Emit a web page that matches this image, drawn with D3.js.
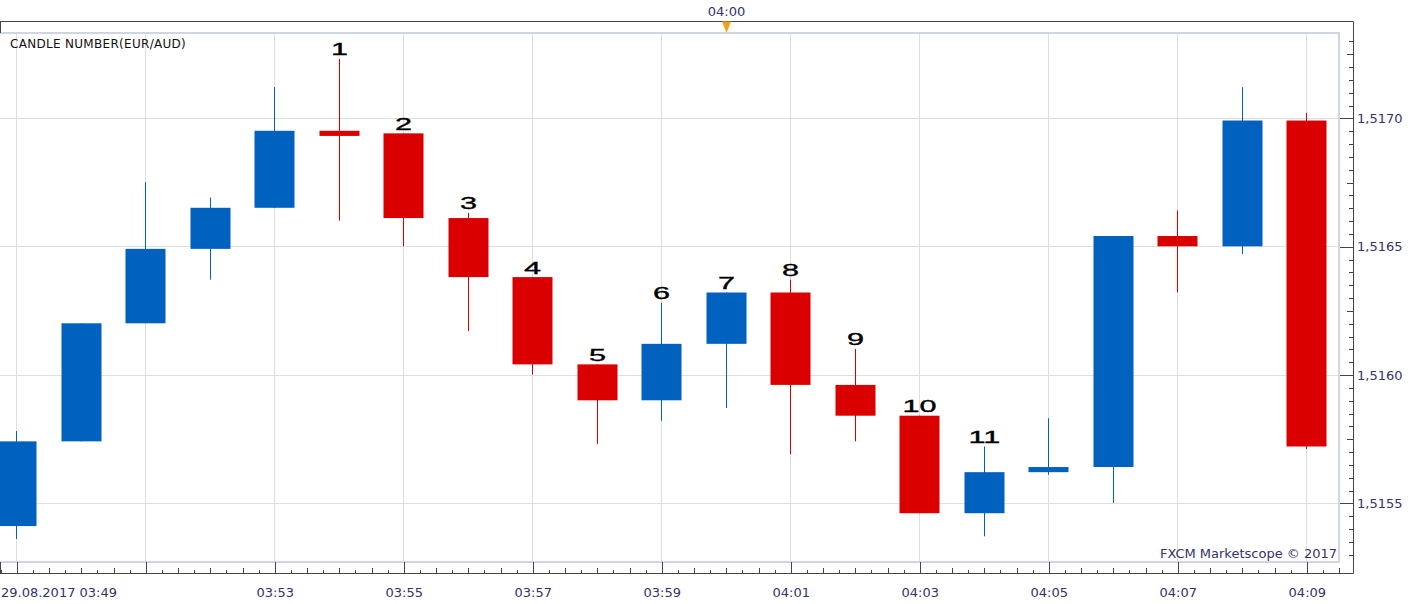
<!DOCTYPE html>
<html>
<head>
<meta charset="utf-8">
<script src="https://cdn.jsdelivr.net/npm/d3@7"></script>
<style>
  html, body { margin: 0; padding: 0; background: #fff; }
  svg { display: block; }
</style>
</head>
<body>
<div id="chart"></div>
<script>
// candle data (EUR/AUD, 1 minute, 29.08.2017)
const times   = ["03:49","03:50","03:51","03:52","03:53","03:54","03:55","03:56","03:57","03:58","03:59",
                 "04:00","04:01","04:02","04:03","04:04","04:05","04:06","04:07","04:08","04:09"];
const opens   = [1.51541,1.51574,1.51620,1.51649,1.51665,1.51695,1.51694,1.51661,1.51638,1.51604,1.51590,
                 1.51612,1.51632,1.51596,1.51584,1.51546,1.51562,1.51564,1.51654,1.51650,1.51699];
const highs   = [1.51578,1.51620,1.51675,1.51669,1.51712,1.51723,1.51694,1.51663,1.51638,1.51604,1.51628,
                 1.51632,1.51637,1.51610,1.51584,1.51572,1.51583,1.51654,1.51664,1.51712,1.51702];
const lows    = [1.51536,1.51574,1.51620,1.51637,1.51665,1.51660,1.51650,1.51617,1.51600,1.51573,1.51582,
                 1.51587,1.51569,1.51574,1.51546,1.51537,1.51561,1.51550,1.51632,1.51647,1.51571];
const closes  = [1.51574,1.51620,1.51649,1.51665,1.51695,1.51693,1.51661,1.51638,1.51604,1.51590,1.51612,
                 1.51632,1.51596,1.51584,1.51546,1.51562,1.51564,1.51654,1.51650,1.51699,1.51572];
const candleNumbers = [null,null,null,null,null,1,2,3,4,5,6,7,8,9,10,11,null,null,null,null,null];

// axis labels
const xLabelTimes = ["03:49","03:51","03:53","03:55","03:57","03:59","04:01","04:03","04:05","04:07","04:09"];
const xLabelTexts = ["29.08.2017 03:49","","03:53","03:55","03:57","03:59","04:01","04:03","04:05","04:07","04:09"];
const yTickValues = [1.5155, 1.5160, 1.5165, 1.5170];
const yTickLabels = ["1,5155", "1,5160", "1,5165", "1,5170"];
const markerTime = "04:00";
const titleText = "CANDLE NUMBER(EUR/AUD)";
const creditText = "FXCM Marketscope \u00A9 2017";

const W = 1419, H = 604;
const plot = { left: 0, right: 1339, top: 33, bottom: 562 };
const frame = { top: 21.5, right: 1353.5, bottom: 573.5 };
const upColor = "#0061bf", downColor = "#db0000";
const labelColor = "#33336b";
const font = "'DejaVu Sans', Verdana, sans-serif";

const toDate = (s, sec = 0, ms = 0) => {
    const [h, m] = s.split(":").map(Number);
    return new Date(Date.UTC(2017, 7, 29, h, m, sec, ms));
};

const candles = times.map((t, i) => ({
    date: toDate(t), open: opens[i], high: highs[i], low: lows[i], close: closes[i], num: candleNumbers[i]
}));

const x = d3.scaleUtc()
    .domain([toDate("03:48", 44, 840), toDate("04:09", 30, 400)])
    .range([plot.left, plot.right]);
const y = d3.scaleLinear()
    .domain([1.51527, 1.517331])
    .range([plot.bottom, plot.top]);

const step = x(toDate("03:50")) - x(toDate("03:49"));
const bodyW = Math.round(step * 0.62);

const svg = d3.select("#chart")
    .append("svg")
    .attr("width", W)
    .attr("height", H)
    .attr("font-family", font);

svg.append("defs").append("clipPath")
    .attr("id", "plotClip")
    .append("rect")
    .attr("x", plot.left)
    .attr("y", plot.top)
    .attr("width", plot.right - plot.left)
    .attr("height", plot.bottom - plot.top);

// gridlines
const grid = svg.append("g").attr("clip-path", "url(#plotClip)");
grid.selectAll(".vgrid")
    .data(xLabelTimes.map(t => toDate(t)))
    .enter()
    .append("line")
    .attr("x1", d => Math.round(x(d)) + 0.5)
    .attr("x2", d => Math.round(x(d)) + 0.5)
    .attr("y1", plot.top)
    .attr("y2", plot.bottom)
    .attr("stroke", "#dedede");
grid.selectAll(".hgrid")
    .data(yTickValues)
    .enter()
    .append("line")
    .attr("x1", plot.left)
    .attr("x2", plot.right)
    .attr("y1", d => Math.round(y(d)) + 0.5)
    .attr("y2", d => Math.round(y(d)) + 0.5)
    .attr("stroke", "#dedede");

// candles
const cg = svg.append("g").attr("clip-path", "url(#plotClip)");
const candle = cg.selectAll(".candle")
    .data(candles)
    .enter()
    .append("g")
    .attr("class", "candle");

candle.append("line")
    .attr("x1", d => Math.round(x(d.date)) + 0.5)
    .attr("x2", d => Math.round(x(d.date)) + 0.5)
    .attr("y1", d => y(d.high))
    .attr("y2", d => y(d.low))
    .attr("stroke", d => d.close >= d.open ? upColor : downColor)
    .attr("stroke-width", 1);

candle.append("rect")
    .attr("x", d => Math.round(x(d.date)) + 0.5 - bodyW / 2)
    .attr("y", d => y(Math.max(d.open, d.close)))
    .attr("width", bodyW)
    .attr("height", d => Math.max(2, Math.abs(y(d.open) - y(d.close))))
    .attr("fill", d => d.close >= d.open ? upColor : downColor);

// candle numbers
svg.append("g").selectAll(".num")
    .data(candles.filter(d => d.num !== null))
    .enter()
    .append("text")
    .attr("transform", d => `translate(${Math.round(x(d.date)) + 0.5},${y(d.high) - 3.5}) scale(1.8,1)`)
    .attr("text-anchor", "middle")
    .attr("font-family", "'Liberation Sans', Arial, sans-serif")
    .attr("font-size", "17px")
    .attr("fill", "#000")
    .attr("stroke", "#000")
    .attr("stroke-width", 0.35)
    .text(d => d.num);

// plot border
svg.append("rect")
    .attr("x", -2)
    .attr("y", plot.top)
    .attr("width", plot.right + 2)
    .attr("height", plot.bottom - plot.top)
    .attr("fill", "none")
    .attr("stroke", "#cdd6e2")
    .attr("stroke-width", 2);

// outer frame
const frameG = svg.append("g").attr("stroke", "#444").attr("fill", "none");
frameG.append("path").attr("d", `M0,${frame.top}H${frame.right}V${frame.bottom}H0`);
frameG.append("path").attr("d", `M0.5,${frame.top}V${plot.top}M0.5,${plot.bottom}V${frame.bottom}`);

// x axis ticks
const allXTicks = d3.utcSecond.every(15).range(x.domain()[0], x.domain()[1]);
const isMajorX = d => d.getUTCSeconds() === 0 && d.getUTCMinutes() % 2 === 1;
const isMidX = d => !isMajorX(d) && d.getUTCSeconds() % 30 === 0;
const isMinorX = d => !isMajorX(d) && !isMidX(d);

function styleAxis(g) {
    g.select(".domain").remove();
    g.selectAll(".tick line").attr("stroke", "#444").attr("shape-rendering", "crispEdges");
    g.selectAll("text").attr("fill", labelColor).attr("font-size", "13px").attr("font-family", font);
}

svg.append("g")
    .attr("transform", `translate(0.5,${frame.bottom})`)
    .call(d3.axisBottom(x).tickValues(allXTicks.filter(isMinorX)).tickSizeInner(-4).tickSizeOuter(0).tickFormat(""))
    .call(styleAxis);
svg.append("g")
    .attr("transform", `translate(0.5,${frame.bottom})`)
    .call(d3.axisBottom(x).tickValues(allXTicks.filter(isMidX)).tickSizeInner(-6).tickSizeOuter(0).tickFormat(""))
    .call(styleAxis);

const xLabelDates = xLabelTimes.map(t => toDate(t));
const xAxisG = svg.append("g")
    .attr("transform", `translate(0.5,${frame.bottom})`)
    .call(d3.axisBottom(x).tickValues(xLabelDates).tickSizeInner(-12).tickSizeOuter(0)
        .tickPadding(14)
        .tickFormat((d, i) => xLabelTexts[i]))
    .call(styleAxis);
xAxisG.selectAll(".tick text")
    .filter((d, i) => i === 0)
    .attr("text-anchor", "start")
    .attr("x", -x(xLabelDates[0]));

// y axis ticks
const yStep = 0.00005;
const [yLo, yHi] = y.domain();
const allYTicks = d3.range(Math.ceil(yLo / yStep), Math.floor(yHi / yStep) + 1).map(i => i * yStep);
const yMajor = v => Math.round(v / yStep) % 10 === 0;
const yMid = v => !yMajor(v) && Math.round(v / yStep) % 5 === 0;

svg.append("g")
    .attr("transform", `translate(${frame.right},0.5)`)
    .call(d3.axisRight(y).tickValues(allYTicks.filter(v => !yMajor(v) && !yMid(v))).tickSizeInner(-5).tickSizeOuter(0).tickFormat(""))
    .call(styleAxis);
svg.append("g")
    .attr("transform", `translate(${frame.right},0.5)`)
    .call(d3.axisRight(y).tickValues(allYTicks.filter(yMid)).tickSizeInner(-7).tickSizeOuter(0).tickFormat(""))
    .call(styleAxis);
svg.append("g")
    .attr("transform", `translate(${frame.right},0.5)`)
    .call(d3.axisRight(y).tickValues(yTickValues).tickSizeInner(-14).tickSizeOuter(0).tickPadding(3.5)
        .tickFormat((d, i) => yTickLabels[i]))
    .call(styleAxis);

// current time marker on top
const mx = Math.round(x(toDate(markerTime))) + 0.5;
svg.append("text")
    .attr("x", mx)
    .attr("y", 15.5)
    .attr("text-anchor", "middle")
    .attr("font-size", "13px")
    .attr("fill", labelColor)
    .text(markerTime);
svg.append("path")
    .attr("d", `M${mx - 4.5},${frame.top}L${mx + 4.5},${frame.top}L${mx},${plot.top}Z`)
    .attr("fill", "#f5a11c");

// title and credit
svg.append("text")
    .attr("x", 10)
    .attr("y", 47.5)
    .attr("font-size", "12px")
    .attr("letter-spacing", "0.3px")
    .attr("fill", "#111")
    .text(titleText);

svg.append("text")
    .attr("x", plot.right - 2)
    .attr("y", 558)
    .attr("text-anchor", "end")
    .attr("font-size", "13px")
    .attr("fill", labelColor)
    .text(creditText);
</script>
</body>
</html>
